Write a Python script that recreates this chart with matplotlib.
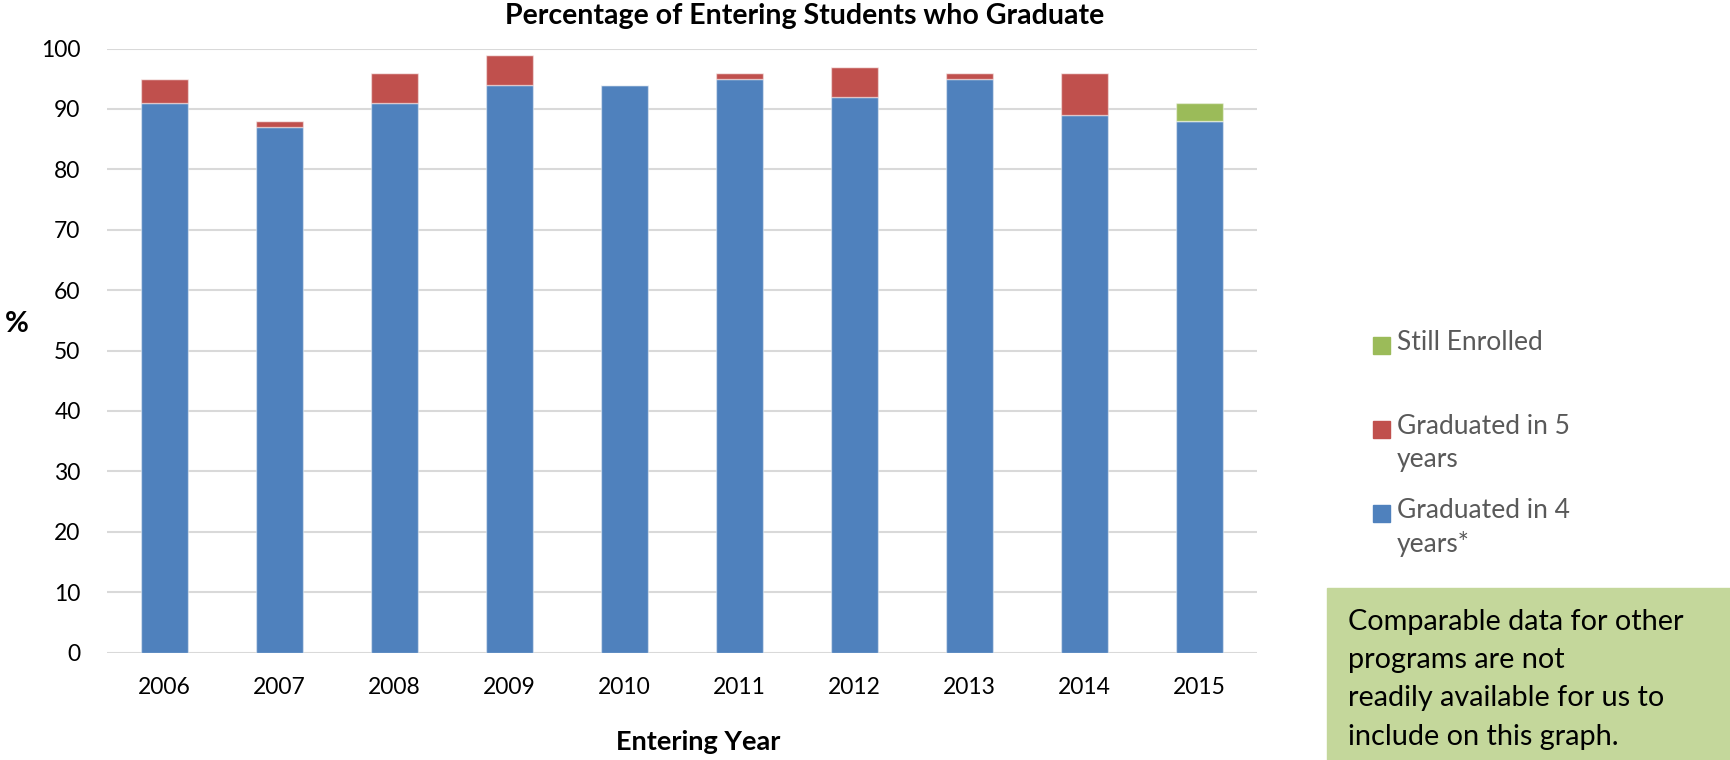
import numpy as np
import matplotlib.pyplot as plt
from matplotlib.patches import Rectangle

plt.rcParams['font.family'] = ['Lato', 'DejaVu Sans']

years = ['2006', '2007', '2008', '2009', '2010', '2011', '2012', '2013', '2014', '2015']
grad4 = [91, 87, 91, 94, 94, 95, 92, 95, 89, 88]
grad5 = [4, 1, 5, 5, 0, 1, 5, 1, 7, 0]
still = [0, 0, 0, 0, 0, 0, 0, 0, 0, 3]

labels = ['Graduated in 4\nyears*', 'Graduated in 5\nyears', 'Still Enrolled']
colors = ['#4F81BD', '#C0504D', '#9BBB59']

note = ('Comparable data for other\nprograms are not\n'
        'readily available for us to\ninclude on this graph.')

W, H = 1731, 760
fig = plt.figure(figsize=(W / 100, H / 100), dpi=100)
ax = fig.add_axes([107 / W, 1 - 652.5 / H, 1150 / W, (652.5 - 48.6) / H])

x = np.arange(len(years))
g4 = np.array(grad4)
g5 = np.array(grad5)
st = np.array(still)
edge = (1, 1, 1, 0.45)
ax.bar(x, g4, width=0.41, color=colors[0], edgecolor=edge, linewidth=1, zorder=3)
ax.bar(x, g5, width=0.41, bottom=g4, color=colors[1], edgecolor=edge, linewidth=1, zorder=3)
ax.bar(x, st, width=0.41, bottom=g4 + g5, color=colors[2], edgecolor=edge, linewidth=1, zorder=3)

ax.set_xlim(-0.5, len(years) - 0.5)
ax.set_ylim(0, 100)
ax.set_yticks(range(0, 101, 10))
ax.set_xticks(x)
ax.set_xticklabels(years)
ax.tick_params(length=0, labelsize=16.5, labelcolor='#000000')
ax.tick_params(axis='y', pad=19)
ax.tick_params(axis='x', pad=18)
ax.grid(axis='y', color='#D9D9D9', linewidth=1.5, zorder=0)
for s in ax.spines.values():
    s.set_visible(False)

fig.text(805 / W, 1 - 16 / H, 'Percentage of Entering Students who Graduate',
         ha='center', va='center', fontsize=20.5, fontweight='bold')
fig.text(698 / W, 1 - 742 / H, 'Entering Year', ha='center', va='center',
         fontsize=19.5, fontweight='bold')
fig.text(17 / W, 1 - 324 / H, '%', ha='center', va='center',
         fontsize=21, fontweight='bold')

# legend entries, top to bottom
leg_y = [345, 429, 513]
for lab, col, yy in zip(labels[::-1], colors[::-1], leg_y):
    fig.add_artist(Rectangle((1373 / W, 1 - (yy + 8.5) / H), 17 / W, 17 / H,
                             transform=fig.transFigure, color=col))
    fig.text(1397 / W, 1 - (yy - 15) / H, lab, ha='left', va='top',
             fontsize=19, color='#595959', linespacing=1.38)

fig.add_artist(Rectangle((1327 / W, 0), (W - 1327) / W, (760 - 588) / H,
                         transform=fig.transFigure, color='#C4D79B'))
fig.text(1348 / W, 1 - 609 / H, note, ha='left', va='top', fontsize=20.8,
         color='#000000', linespacing=1.58)

fig.savefig('out.png', dpi=100)
